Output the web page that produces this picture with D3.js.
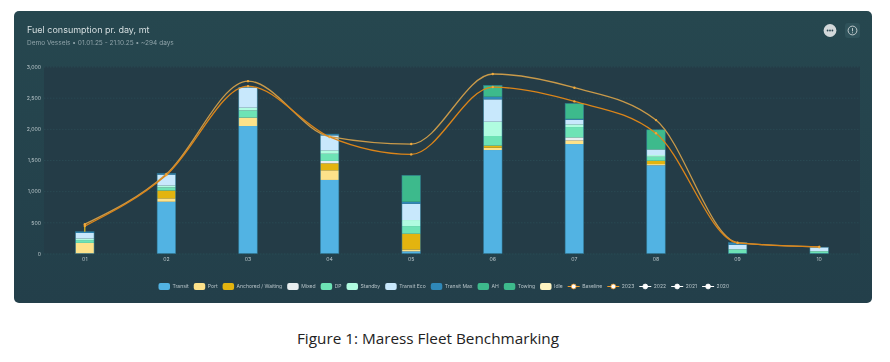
<!DOCTYPE html>
<html>
<head>
<meta charset="utf-8">
<script src="https://cdnjs.cloudflare.com/ajax/libs/d3/7.8.5/d3.min.js"></script>
<style>
  html, body { margin: 0; padding: 0; background: #fff; }
  svg { display: block; font-family: "Inter", "Noto Sans", sans-serif; }
  .axis text { fill: #b9c6ca; font-size: 5.2px; font-family: "Inter", sans-serif; }
  .axis .domain { display: none; }
  .grid line { stroke: #2d505a; stroke-width: 0.6; stroke-dasharray: 1.5 1.5; }
  .grid .domain, .grid text { display: none; }
  .legend text { fill: #b4c1c6; font-size: 5.05px; }
</style>
</head>
<body>
<svg id="chart" width="890" height="362"></svg>
<script>
// Values, in mt per day
const categories = ['01', '02', '03', '04', '05', '06', '07', '08', '09', '10'];
const yTicks = [0, 500, 1000, 1500, 2000, 2500, 3000];

const transit    = [0, 830, 2045, 1180, 35, 1660, 1756, 1415, 0, 0];
const port       = [170, 55, 135, 155, 30, 37, 59, 20, 0, 0];
const anchored   = [0, 125, 0, 112, 252, 33, 0, 53, 0, 0];
const mixed      = [0, 0, 0, 38, 0, 0, 48, 0, 0, 0];
const dp         = [45, 50, 115, 115, 123, 155, 166, 64, 65, 35];
const standby    = [25, 30, 45, 55, 97, 230, 43, 28, 5, 5];
const transitEco = [90, 175, 325, 240, 261, 358, 74, 90, 70, 60];
const transitMax = [20, 20, 0, 20, 32, 42, 14, 0, 35, 0];
const ah         = [0, 0, 0, 0, 0, 182, 248, 315, 0, 0];
const towing     = [0, 0, 0, 0, 424, 0, 0, 0, 0, 0];
const idle       = [0, 0, 0, 0, 0, 0, 0, 0, 0, 0];

const baseline = [470, 1275, 2765, 1875, 1756, 2880, 2660, 2140, 175, 105];
const y2023    = [440, 1260, 2685, 1870, 1590, 2670, 2440, 1928, 170, 105];

const barSeries = [
    {name: 'Transit', values: transit, color: '#52b3e3'},
    {name: 'Port', values: port, color: '#fde28a'},
    {name: 'Anchored / Waiting', values: anchored, color: '#e3b40f'},
    {name: 'Mixed', values: mixed, color: '#e8eef0'},
    {name: 'DP', values: dp, color: '#6de3b5'},
    {name: 'Standby', values: standby, color: '#b0fce0'},
    {name: 'Transit Eco', values: transitEco, color: '#c8e8fc'},
    {name: 'Transit Max', values: transitMax, color: '#2f88b8'},
    {name: 'AH', values: ah, color: '#3dba8c'},
    {name: 'Towing', values: towing, color: '#3dba8c'},
    {name: 'Idle', values: idle, color: '#fdf3c0'}
];
const lineSeries = [
    {name: 'Baseline', values: baseline, color: '#c99a4a', legend: '#f09a28'},
    {name: '2023', values: y2023, color: '#dc8519', legend: '#f09a28'},
    {name: '2022', values: [], color: '#ffffff', legend: '#ffffff'},
    {name: '2021', values: [], color: '#ffffff', legend: '#ffffff'},
    {name: '2020', values: [], color: '#ffffff', legend: '#ffffff'}
];

const svg = d3.select('#chart');
const card = {x: 14, y: 11, width: 858, height: 292};
const plot = {left: 44, right: 860, top: 66.5, bottom: 253.5};

const defs = svg.append('defs');
const grad = defs.append('linearGradient').attr('id', 'cardFill')
    .attr('x1', 0).attr('y1', 0).attr('x2', 0).attr('y2', 1);
grad.append('stop').attr('offset', '0%').attr('stop-color', '#26474f');
grad.append('stop').attr('offset', '100%').attr('stop-color', '#233f4a');

// Slight softness, the reference is a scaled screenshot
const root = svg.append('g').style('filter', 'blur(0.35px)');

root.append('rect')
    .attr('x', card.x).attr('y', card.y)
    .attr('width', card.width).attr('height', card.height)
    .attr('rx', 5)
    .attr('fill', 'url(#cardFill)');

root.append('rect')
    .attr('x', plot.left).attr('y', plot.top)
    .attr('width', plot.right - plot.left).attr('height', plot.bottom - plot.top)
    .attr('fill', '#243c47');

// Header
root.append('text')
    .attr('x', 27).attr('y', 33)
    .attr('fill', '#d6dfe1')
    .style('font-size', '9px')
    .text('Fuel consumption pr. day, mt');
root.append('text')
    .attr('x', 27).attr('y', 45)
    .attr('fill', '#8fa3a9')
    .style('font-size', '6.5px')
    .text('Demo Vessels • 01.01.25 - 21.10.25 • ~294 days');

// Header buttons
const more = root.append('g').attr('transform', 'translate(830,30.5)');
more.append('circle').attr('r', 6.4).attr('fill', '#d3d8da');
more.selectAll('.dot').data([-2.4, 0, 2.4]).join('circle')
    .attr('cx', d => d).attr('r', 0.9).attr('fill', '#2b4650');
const info = root.append('g').attr('transform', 'translate(852.5,30.5)');
info.append('rect').attr('x', -7.5).attr('y', -7.5).attr('width', 15).attr('height', 15)
    .attr('rx', 3).attr('fill', '#2f525a');
info.append('circle').attr('r', 4.4).attr('fill', 'none').attr('stroke', '#cfd6d8').attr('stroke-width', 0.9);
info.append('line').attr('y1', -2.4).attr('y2', 0.8).attr('stroke', '#cfd6d8').attr('stroke-width', 0.9);
info.append('circle').attr('cy', 2.2).attr('r', 0.55).attr('fill', '#cfd6d8');

// Scales
const xScale = d3.scaleBand()
    .domain(categories)
    .range([plot.left, plot.right])
    .paddingInner(0.773)
    .paddingOuter(0.3865);
const yScale = d3.scaleLinear()
    .domain([0, 3000])
    .range([plot.bottom, plot.top]);

// Gridlines and axes
root.append('g')
    .attr('class', 'grid')
    .attr('transform', `translate(${plot.left},0)`)
    .call(d3.axisLeft(yScale).tickValues(yTicks).tickSize(-(plot.right - plot.left)));

root.append('g')
    .attr('class', 'axis')
    .attr('transform', `translate(${plot.left},0)`)
    .call(d3.axisLeft(yScale).tickValues(yTicks).tickSize(0).tickPadding(3).tickFormat(d3.format(',')));

root.append('g')
    .attr('class', 'axis')
    .attr('transform', `translate(0,${plot.bottom})`)
    .call(d3.axisBottom(xScale).tickSize(0).tickPadding(4));

// Stacked bars
const rows = categories.map((c, i) => {
    const row = {category: c};
    barSeries.forEach(s => { row[s.name] = s.values[i]; });
    return row;
});
const stacked = d3.stack().keys(barSeries.map(s => s.name))(rows);

root.selectAll('.layer')
    .data(stacked)
    .join('g')
    .attr('class', 'layer')
    .attr('fill', (d, i) => barSeries[i].color)
    .selectAll('rect')
    .data(d => d.filter(p => p[1] > p[0]))
    .join('rect')
    .attr('x', d => xScale(d.data.category))
    .attr('width', xScale.bandwidth())
    .attr('y', d => yScale(d[1]))
    .attr('height', d => yScale(d[0]) - yScale(d[1]));

// Darker outline around each whole bar
const barTotal = d => d3.sum(barSeries, s => d[s.name]);
root.selectAll('.bar-edge')
    .data(rows)
    .join('rect')
    .attr('class', 'bar-edge')
    .attr('x', d => xScale(d.category))
    .attr('width', xScale.bandwidth())
    .attr('y', d => yScale(barTotal(d)))
    .attr('height', d => plot.bottom - yScale(barTotal(d)))
    .attr('fill', 'none')
    .attr('stroke', '#2f7a96')
    .attr('stroke-opacity', 0.75)
    .attr('stroke-width', 0.7);

// Lines
const xCenter = c => xScale(c) + xScale.bandwidth() / 2;
const line = d3.line()
    .x((d, i) => xCenter(categories[i]))
    .y(d => yScale(d))
    .curve(d3.curveMonotoneX);

// Short yellow stub between the first bar and the first line points
root.append('line')
    .attr('x1', xCenter(categories[0])).attr('x2', xCenter(categories[0]))
    .attr('y1', yScale(y2023[0])).attr('y2', yScale(barTotal(rows[0])))
    .attr('stroke', '#e8c020')
    .attr('stroke-width', 1.2);

lineSeries.filter(s => s.values.length).forEach(s => {
    root.append('path')
        .attr('d', line(s.values))
        .attr('fill', 'none')
        .attr('stroke', s.color)
        .attr('stroke-width', 1.3);
    root.append('g').selectAll('circle')
        .data(s.values)
        .join('circle')
        .attr('cx', (d, i) => xCenter(categories[i]))
        .attr('cy', d => yScale(d))
        .attr('r', 1.2)
        .attr('fill', '#f0a93a');
});

// Legend, laid out from the measured label widths
const legend = root.append('g').attr('class', 'legend');
let legendX = 158.5;
const legendY = 286.5;
barSeries.forEach(s => {
    legend.append('rect')
        .attr('x', legendX).attr('y', legendY - 3.5)
        .attr('width', 11.5).attr('height', 7).attr('rx', 2)
        .attr('fill', s.color);
    const t = legend.append('text')
        .attr('x', legendX + 14).attr('y', legendY + 1.8)
        .text(s.name);
    legendX += 14 + t.node().getComputedTextLength() + 5;
});
lineSeries.forEach(s => {
    legend.append('line')
        .attr('x1', legendX).attr('x2', legendX + 12)
        .attr('y1', legendY).attr('y2', legendY)
        .attr('stroke', s.legend).attr('stroke-width', 1);
    legend.append('circle')
        .attr('cx', legendX + 6).attr('cy', legendY).attr('r', 2.4)
        .attr('fill', '#ffffff').attr('stroke', s.legend).attr('stroke-width', 0.8);
    const t = legend.append('text')
        .attr('x', legendX + 14.5).attr('y', legendY + 1.8)
        .text(s.name);
    legendX += 14.5 + t.node().getComputedTextLength() + 5;
});

// Caption below the card
svg.append('text')
    .attr('x', 428).attr('y', 344)
    .attr('text-anchor', 'middle')
    .attr('fill', '#222222')
    .style('font-family', '"Open Sans", sans-serif')
    .style('font-size', '15.3px')
    .text('Figure 1: Maress Fleet Benchmarking');
</script>
</body>
</html>
